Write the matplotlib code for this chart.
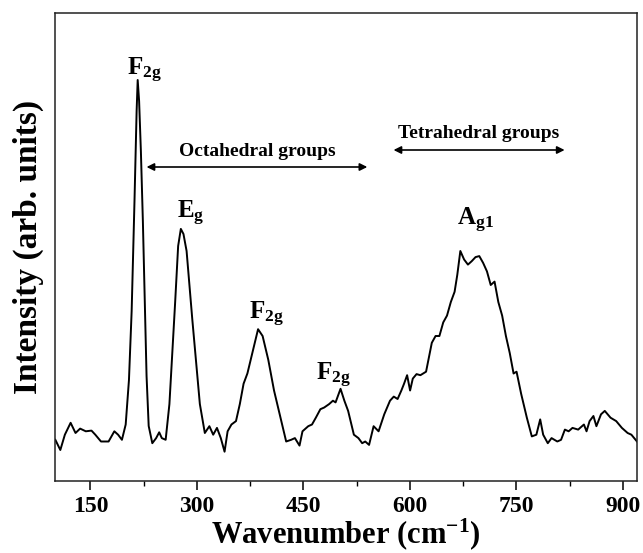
import numpy as np
import matplotlib
matplotlib.use("Agg")
import matplotlib.pyplot as plt
from matplotlib.ticker import MultipleLocator, NullLocator

plt.rcParams["font.family"] = ["Liberation Serif", "DejaVu Serif"]
plt.rcParams["font.weight"] = "bold"
plt.rcParams["mathtext.fontset"] = "custom"
plt.rcParams["mathtext.rm"] = "Liberation Serif:bold"
plt.rcParams["mathtext.bf"] = "Liberation Serif:bold"
plt.rcParams["mathtext.it"] = "Liberation Serif:bold"

# Raman spectrum: wavenumber (cm^-1) and intensity (arb. units)
wavenumber = [
    100.5, 107.5, 113.9, 122.0, 128.9, 135.4, 143.4, 151.4, 156.8, 164.8,
    175.5, 183.6, 188.9, 194.3, 199.6, 204.2, 208.0, 212.0, 215.0, 216.5,
    218.5, 221.0, 223.8, 226.5, 229.0, 232.0, 237.1, 242.5, 246.8, 250.5,
    255.9, 261.2, 269.3, 273.5, 277.3, 281.0, 285.4, 293.4, 304.1, 311.1,
    317.5, 322.9, 328.2, 333.6, 338.9, 343.2, 348.6, 355.0, 360.4, 365.7,
    371.1, 379.1, 386.1, 392.5, 400.5, 408.6, 416.6, 425.7, 432.7, 438.0,
    444.5, 448.7, 456.8, 462.1, 467.5, 473.9, 479.3, 486.2, 491.6, 495.3,
    502.3, 507.7, 513.0, 521.1, 527.5, 532.8, 537.1, 542.5, 548.9, 555.9,
    563.9, 572.0, 577.3, 582.7, 588.0, 591.8, 596.1, 600.3, 604.1, 609.4,
    614.8, 622.8, 627.1, 630.9, 636.2, 641.6, 647.0, 652.3, 657.7, 663.0,
    666.8, 671.1, 676.4, 681.8, 687.1, 692.5, 697.8, 703.2, 708.6, 713.9,
    719.3, 724.6, 730.0, 735.3, 740.7, 746.1, 750.3, 756.8, 764.8, 771.8,
    778.2, 783.6, 787.8, 794.3, 799.6, 807.7, 813.0, 818.4, 823.7, 829.1,
    837.1, 845.2, 848.9, 853.2, 858.6, 862.8, 869.3, 874.6, 882.7, 890.7,
    898.7, 906.8, 912.1, 920.0,
]
intensity = [
    41.2, 31.0, 46.3, 58.2, 48.0, 52.4, 49.7, 50.4, 46.3, 39.5,
    39.5, 49.7, 46.3, 41.2, 56.5, 101.0, 170.0, 280.0, 370.0, 401.0,
    380.0, 330.0, 260.0, 180.0, 105.0, 55.0, 37.8, 42.9, 48.7, 42.9,
    41.2, 76.9, 179.0, 235.0, 252.1, 247.0, 230.0, 162.0, 76.9, 48.0,
    54.8, 46.3, 53.1, 42.9, 29.3, 49.7, 56.5, 59.9, 76.9, 97.3,
    107.6, 131.4, 151.8, 145.0, 121.2, 90.5, 66.7, 39.5, 41.2, 42.9,
    35.4, 49.7, 54.8, 56.5, 63.3, 71.8, 73.5, 76.9, 80.3, 78.6,
    92.2, 80.3, 70.1, 46.3, 42.9, 37.8, 39.5, 36.1, 54.8, 49.7,
    66.7, 80.3, 84.4, 82.0, 90.5, 97.3, 105.8, 90.5, 102.4, 106.9,
    105.8, 109.3, 124.6, 138.2, 145.0, 145.0, 158.6, 165.4, 179.0, 189.2,
    206.2, 230.0, 221.5, 216.4, 219.8, 223.9, 224.9, 218.1, 209.6, 196.0,
    199.4, 179.0, 165.4, 145.0, 128.0, 107.5, 109.3, 87.1, 63.3, 44.6,
    46.3, 61.6, 46.3, 37.8, 42.9, 39.5, 41.2, 51.4, 49.7, 53.1,
    51.4, 56.5, 49.7, 59.9, 65.0, 54.8, 66.7, 70.1, 63.3, 59.9,
    53.1, 48.0, 46.3, 39.5,
]

# Mode assignments: label text and position of its baseline
peak_labels = [r"$\mathbf{F_{2g}}$", r"$\mathbf{E_{g}}$", r"$\mathbf{F_{2g}}$",
               r"$\mathbf{F_{2g}}$", r"$\mathbf{A_{g1}}$"]
peak_label_x = [202.0, 272.5, 374.0, 467.5, 666.0]
peak_label_y = [406.0, 263.0, 162.0, 101.0, 256.0]

# Spectral regions of the two cation sites
region_names = ["Octahedral groups", "Tetrahedral groups"]
region_start = [229.0, 577.0]
region_end = [540.0, 818.0]
region_arrow_y = [314.0, 331.0]
region_text_y = [329.0, 347.0]

xticks_major = [150, 300, 450, 600, 750, 900]

fig = plt.figure(figsize=(6.43, 5.53), dpi=100)
ax = fig.add_axes([55 / 643, 72 / 553, 582 / 643, 468 / 553])

ax.plot(wavenumber, intensity, color="black", lw=1.4, solid_joinstyle="round")

ax.set_xlim(100, 920)
ax.set_ylim(0, 468)
ax.xaxis.set_minor_locator(MultipleLocator(75))
ax.set_xticks(xticks_major)
ax.yaxis.set_major_locator(NullLocator())
ax.tick_params(axis="x", which="major", direction="out", length=6.5, width=1.1,
               labelsize=17, pad=4, top=False)
ax.tick_params(axis="x", which="minor", direction="out", length=3.5, width=1.0,
               top=False)
for lab in ax.get_xticklabels():
    lab.set_fontweight("bold")

for side in ["left", "right", "top", "bottom"]:
    ax.spines[side].set_linewidth(1.1)
    ax.spines[side].set_color("#222222")

ax.set_xlabel(r"Wavenumber (cm$^{\mathbf{-1}}$)", fontsize=22, fontweight="bold",
              labelpad=0)
ax.set_ylabel("Intensity (arb. units)", fontsize=24, fontweight="bold", labelpad=8)

for lab, lx, ly in zip(peak_labels, peak_label_x, peak_label_y):
    ax.text(lx, ly, lab, fontsize=18, ha="left", va="baseline")

for name, x0, x1, ya, yt in zip(region_names, region_start, region_end,
                                region_arrow_y, region_text_y):
    ax.annotate("", xy=(x1, ya), xytext=(x0, ya),
                arrowprops=dict(arrowstyle="<|-|>", color="black", lw=1.2,
                                mutation_scale=11, shrinkA=0, shrinkB=0))
    ax.text((x0 + x1) / 2, yt, name, fontsize=14, fontweight="bold",
            ha="center", va="center")

fig.savefig("out.png", dpi=100)
